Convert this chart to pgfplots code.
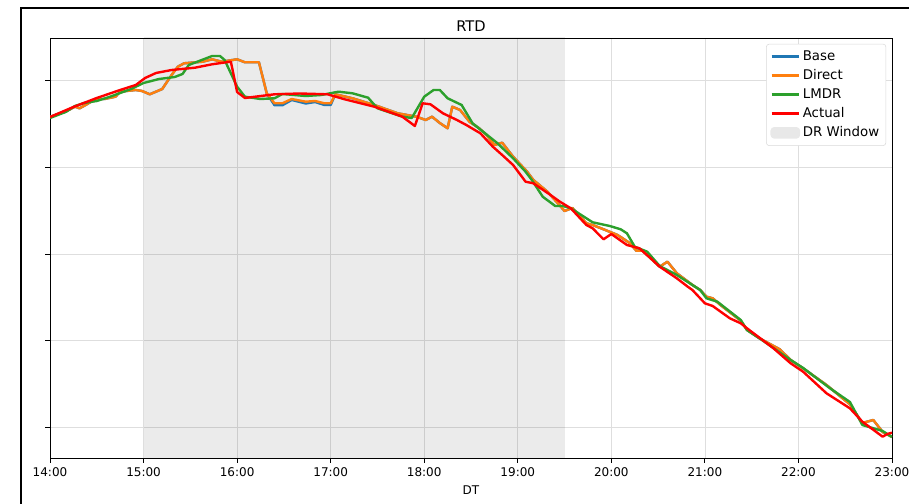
\documentclass[border=0pt]{standalone}
\usepackage{pgfplots}
\pgfplotsset{compat=1.18}
\usepackage{fontspec}
\setmainfont{DejaVu Sans}
\definecolor{cBase}{HTML}{1F77B4}
\definecolor{cDirect}{HTML}{FF7F0E}
\definecolor{cLMDR}{HTML}{2CA02C}
\definecolor{cActual}{HTML}{FF0000}
\begin{document}
\begin{tikzpicture}[x=0.75pt,y=0.75pt]
\path[use as bounding box] (0,0) rectangle (909,503);
\draw[line width=1.5pt] (21,-20) -- (21,495) -- (930,495);
\begin{axis}[
  at={(37.5pt,33.75pt)}, anchor=south west,
  scale only axis, width=631.5pt, height=315pt,
  xmin=0, xmax=540, ymin=0, ymax=420,
  xtick={0,60,...,540},
  xticklabels={14:00,15:00,16:00,17:00,18:00,19:00,20:00,21:00,22:00,23:00},
  ytick={31,118,204,291,378}, yticklabels={},
  tick align=outside, major tick length=3.6pt,
  tick style={black, line width=0.6pt},
  xtick pos=bottom, ytick pos=left,
  grid=major, grid style={line width=0.5pt, black!13},
  axis line style={line width=0.6pt},
  ticklabel style={font=\fontsize{9}{11}\selectfont},
  xlabel={DT}, xlabel style={font=\fontsize{9}{11}\selectfont, yshift=0pt},
  title={RTD}, title style={font=\fontsize{11}{13}\selectfont, yshift=-5pt},
  legend cell align=left,
  legend style={at={(0.993,0.986)}, anchor=north east, draw=black!15, rounded corners=2pt,
    font=\fontsize{10}{12}\selectfont, row sep=1.3pt, inner sep=3pt},
  legend image code/.code={\draw[line width=1.8pt] (0cm,0cm) -- (0.72cm,0cm);},
  every axis plot/.append style={line width=1.8pt, line join=round},
]
\addplot[draw=none, fill=black, fill opacity=0.08, forget plot] coordinates {(60,-10) (330,-10) (330,500) (60,500)} -- cycle;

\addplot[cBase] coordinates {(0,341) (5,344) (10,346.3) (16,351.3) (19,349.7) (24,354) (29,359) (35,359) (42,361.3) (45,366.3) (55,368) (59,367) (64,363.7) (72,369) (78,383) (82,391.3) (86,394.7) (98,396.3) (104,398.7) (110,396.3) (120,398.7) (125,395.7) (134,395.7) (139,364.7) (144,352.7) (149,352.7) (155,358) (164,354.5) (170,356) (176,353) (180,353) (183,363.7) (194,359.7) (208,353) (223,344.7) (229,343) (235,341.3) (241,338) (245,341.3) (250,335) (255,329.7) (258,351.3) (263,348) (269,336.3) (275,330) (280,323) (285,313) (290,315.3) (297,301.3) (306,286.3) (310,278) (319,266.3) (325,256) (330,247) (335,250) (344,234.7) (348,233) (355,228.7) (364,223) (372,214.7) (376,207.3) (380,207.3) (391,191.3) (396,196.3) (402,184.7) (412,173) (417,168) (421,161.3) (425,159.7) (430,153) (443,137.3) (447,128) (455,119.7) (468,108.7) (475,98) (483,89.7) (498,73) (513,53.7) (521,35) (528,38) (534,26) (540,21)};
\addlegendentry{Base}

\addplot[cDirect] coordinates {(0,341) (5,344) (10,346.3) (16,351.3) (19,349.7) (24,354) (29,359) (35,359) (42,361.3) (45,366.3) (55,368) (59,367) (64,363.7) (72,369) (78,383) (82,391.3) (86,394.7) (98,396.3) (104,398.7) (110,396.3) (120,398.7) (125,395.7) (134,395.7) (139,364.7) (144,354.7) (149,354.7) (155,359) (164,356.3) (170,357) (176,354.7) (180,354.7) (183,363.7) (194,359.7) (208,353) (223,344.7) (229,343) (235,341.3) (241,338) (245,341.3) (250,335) (255,329.7) (258,351.3) (263,348) (269,336.3) (275,330) (280,323) (285,313) (290,315.3) (297,301.3) (306,286.3) (310,278) (319,266.3) (325,256) (330,247) (335,250) (344,234.7) (348,233) (355,228.7) (364,223) (372,214.7) (376,207.3) (380,207.3) (391,191.3) (396,196.3) (402,184.7) (412,173) (417,168) (421,161.3) (425,159.7) (430,153) (443,137.3) (447,128) (455,119.7) (468,108.7) (475,98) (483,89.7) (498,73) (513,53.7) (521,35) (528,38) (534,26) (540,21)};
\addlegendentry{Direct}

\addplot[cLMDR] coordinates {(0,340) (5,343) (10,346) (16,352) (22,355) (30,357) (38,361) (45,365) (52,369) (60,375) (70,379) (80,381) (85,384) (89,393) (104,402) (109,402) (112,398) (120,371.3) (125,361.3) (135,359) (144,359.7) (149,364) (164,362) (174,363) (185,366.3) (194,364.7) (204,360.3) (210,349.7) (226,341.3) (232,340) (240,361.3) (246,368) (250,368) (255,359.7) (264,353) (271,334.7) (279,324.7) (287,314.7) (297,299.7) (305,286.3) (309,278) (316,261.3) (324,252) (329,252) (334,249.7) (348,235.7) (359,232) (366,228.7) (370,224.7) (375,211.3) (383,206.3) (391,192) (402,183) (412,173) (417,168) (421,159.7) (428,156.3) (443,138) (447,128) (455,119.7) (475,98) (483,90) (500,70) (513,56) (521,33) (534,27) (540,21)};
\addlegendentry{LMDR}

\addplot[cActual] coordinates {(0,341) (15,351) (30,360) (45,368) (55,373) (61,380) (68,385) (78,388) (93,390.3) (104,393.7) (113,395.7) (116,396.3) (120,366) (125,360) (144,363.7) (160,364.5) (178,363.7) (189,358.7) (208,351.3) (226,341.3) (234,332) (239,354.7) (244,353.7) (252,344.7) (261,338) (267,333) (276,324.7) (284,311.3) (290,303) (297,293) (305,276.3) (310,274.7) (321,263) (327,256.3) (334,249.7) (340,239.7) (344,233) (348,229.7) (355,218.7) (360,224) (370,213) (378,209.7) (385,200) (391,191.3) (402,179.7) (409,171.3) (412,168) (420,154.7) (425,152) (436,139.7) (443,134.7) (447,129.7) (464,109.7) (475,94.7) (483,86.3) (498,64.7) (513,49.7) (521,36.3) (534,21.3) (537,24) (540,25.3)};
\addlegendentry{Actual}

\addlegendimage{legend image code/.code={\fill[black!9] (0cm,-0.12cm) rectangle (0.72cm,0.12cm);}}
\addlegendentry{DR Window}
\end{axis}
\end{tikzpicture}
\end{document}
